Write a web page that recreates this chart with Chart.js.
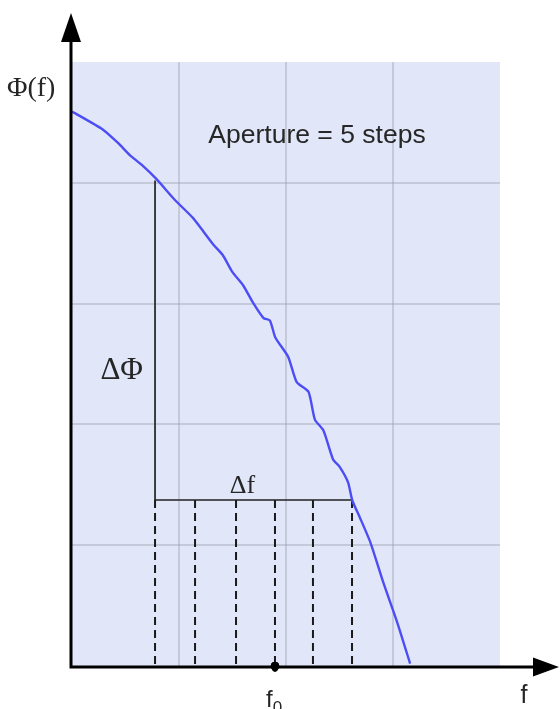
<!DOCTYPE html>
<html>
<head>
<meta charset="utf-8">
<script src="https://cdn.jsdelivr.net/npm/chart.js@4/dist/chart.umd.min.js"></script>
<style>
html,body{margin:0;padding:0;background:#fff;}
canvas{display:block;}
</style>
</head>
<body>
<canvas id="c" width="560" height="709"></canvas>
<script>
// Phase curve Φ(f) (arbitrary units)
const curveF   = [0, 0.29, 0.43, 0.54, 0.65, 0.79, 0.96, 1.13, 1.20, 1.32, 1.41, 1.50, 1.60, 1.69, 1.79, 1.85, 1.90, 2.02, 2.10, 2.21, 2.27, 2.35, 2.44, 2.50, 2.58, 2.62, 2.69, 2.79, 2.91, 3.04, 3.16];
const curvePhi = [4.59, 4.44, 4.33, 4.23, 4.15, 4.03, 3.86, 3.71, 3.63, 3.49, 3.40, 3.26, 3.15, 3.01, 2.88, 2.86, 2.72, 2.56, 2.35, 2.27, 2.04, 1.95, 1.71, 1.65, 1.52, 1.37, 1.23, 1.02, 0.69, 0.36, 0.02];
// Aperture step frequencies (5 steps)
const stepF = [0.776, 1.150, 1.533, 1.897, 2.252, 2.617];
const phiTop = 4.02;     // Φ at first step
const phiBottom = 1.374; // Φ at last step
const f0Index = 3;
// Labels
const yAxisLabel = "Φ(f)";
const xAxisLabel = "f";
const f0Label = "f";
const f0Sub = "0";
const deltaPhiLabel = "ΔΦ";
const deltaFLabel = "Δf";
const apertureLabel = "Aperture = 5 steps";

const datasets = [];
datasets.push({
  type: 'line',
  data: curveF.map((f, i) => ({x: f, y: curvePhi[i]})),
  borderColor: '#4d4df5',
  borderWidth: 2.4,
  borderJoinStyle: 'round',
  pointRadius: 0,
  tension: 0.2,
  order: 1
});
datasets.push({
  type: 'line',
  data: [{x: stepF[0], y: phiTop}, {x: stepF[0], y: phiBottom}, {x: stepF[stepF.length-1], y: phiBottom}],
  borderColor: '#222',
  borderWidth: 1.7,
  pointRadius: 0,
  tension: 0,
  order: 2
});
stepF.forEach(f => {
  datasets.push({
    type: 'line',
    data: [{x: f, y: phiBottom}, {x: f, y: 0}],
    borderColor: '#1a1a1a',
    borderWidth: 2,
    borderDash: [8, 5],
    pointRadius: 0,
    order: 3
  });
});
datasets.push({
  type: 'scatter',
  data: [{x: stepF[f0Index], y: 0}],
  backgroundColor: '#000',
  borderColor: '#000',
  pointRadius: 4,
  clip: false,
  order: 0
});

const gridColor = (ctx) => (ctx.tick && (ctx.tick.value === 0 || ctx.tick.value === ctx.scale.max)) ? 'rgba(0,0,0,0)' : 'rgba(150,155,168,0.38)';

const decor = {
  id: 'decor',
  beforeDraw(chart) {
    const {ctx, chartArea: a} = chart;
    ctx.save();
    ctx.fillStyle = '#e1e7f8';
    ctx.fillRect(a.left, a.top, a.right - a.left, a.bottom - a.top);
    ctx.restore();
  },
  afterDraw(chart) {
    const {ctx, chartArea: a, scales} = chart;
    const xs = scales.x, ys = scales.y;
    const ax = a.left - 1, ay = a.bottom + 1;
    ctx.save();
    // axes
    ctx.strokeStyle = '#000';
    ctx.lineWidth = 3;
    ctx.beginPath();
    ctx.moveTo(ax, ay + 1.5);
    ctx.lineTo(ax, 40);
    ctx.moveTo(ax - 1.5, ay);
    ctx.lineTo(535, ay);
    ctx.stroke();
    ctx.fillStyle = '#000';
    ctx.beginPath();
    ctx.moveTo(ax, 13); ctx.lineTo(ax - 10, 42); ctx.lineTo(ax + 10, 42); ctx.closePath(); ctx.fill();
    ctx.beginPath();
    ctx.moveTo(559, ay); ctx.lineTo(533, ay - 9.5); ctx.lineTo(533, ay + 9.5); ctx.closePath(); ctx.fill();
    // dot
    const fx = xs.getPixelForValue(stepF[f0Index]);
    ctx.beginPath();
    ctx.ellipse(fx, ay, 3.5, 5, 0, 0, Math.PI * 2);
    ctx.fill();
    // texts
    ctx.fillStyle = '#262626';
    ctx.textBaseline = 'alphabetic';
    ctx.textAlign = 'left';
    ctx.font = '28px "Liberation Serif"';
    ctx.fillText(yAxisLabel, 7, 96);
    ctx.font = '25px "Liberation Sans"';
    ctx.textAlign = 'center';
    ctx.fillText(xAxisLabel, 524, 703);
    ctx.textAlign = 'left';
    ctx.font = '24px "Liberation Sans"';
    ctx.fillText(f0Label, fx - 9, 707);
    const fw = ctx.measureText(f0Label).width;
    ctx.font = '17px "Liberation Sans"';
    ctx.fillText(f0Sub, fx - 9 + fw, 713);
    ctx.font = '31px "Liberation Serif"';
    ctx.textAlign = 'right';
    const x0 = xs.getPixelForValue(stepF[0]);
    ctx.fillText(deltaPhiLabel, x0 - 12, 379);
    ctx.textAlign = 'center';
    ctx.font = '26px "Liberation Serif"';
    const yb = ys.getPixelForValue(phiBottom);
    ctx.fillText(deltaFLabel, (x0 + xs.getPixelForValue(stepF[stepF.length-1])) / 2 - 11, yb - 7);
    ctx.font = '26.5px "Liberation Sans"';
    ctx.fillText(apertureLabel, 317, 143);
    ctx.restore();
  }
};

new Chart(document.getElementById('c'), {
  type: 'line',
  data: {datasets},
  options: {
    responsive: false,
    animation: false,
    devicePixelRatio: 1,
    layout: {padding: {left: 72, right: 60, top: 62, bottom: 43}},
    plugins: {legend: {display: false}, tooltip: {enabled: false}},
    scales: {
      x: {
        type: 'linear', min: 0, max: 4,
        ticks: {display: false, stepSize: 1},
        border: {display: false},
        grid: {color: gridColor, lineWidth: 2, drawTicks: false}
      },
      y: {
        type: 'linear', min: 0, max: 5,
        ticks: {display: false, stepSize: 1},
        border: {display: false},
        grid: {color: gridColor, lineWidth: 2, drawTicks: false}
      }
    }
  },
  plugins: [decor]
});
</script>
</body>
</html>
